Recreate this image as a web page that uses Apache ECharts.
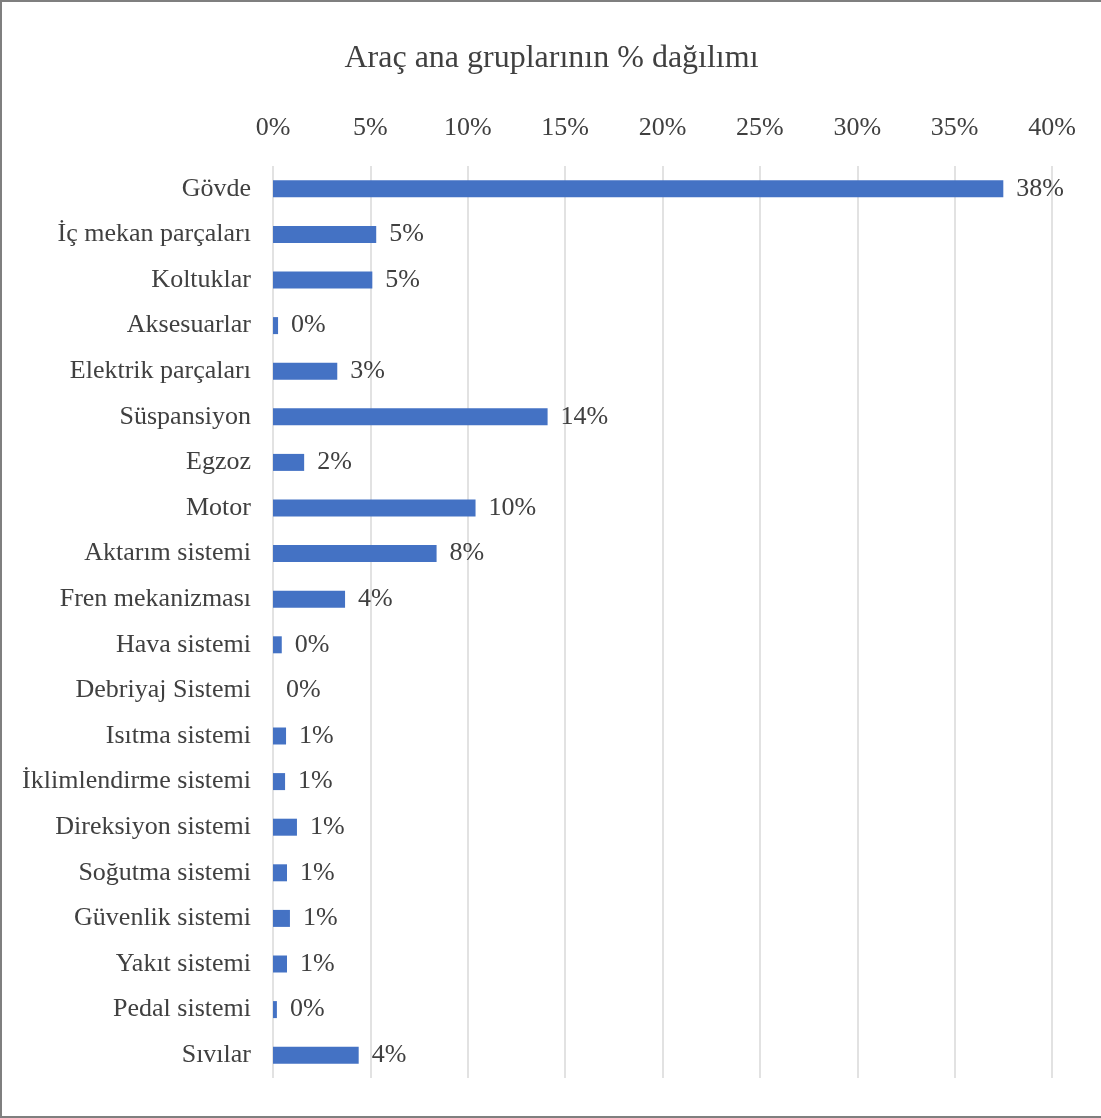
<!DOCTYPE html>
<html lang="tr">
<head>
<meta charset="utf-8">
<title>Araç ana gruplarının % dağılımı</title>
<script src="https://cdn.jsdelivr.net/npm/echarts@6/dist/echarts.min.js"></script>
<style>
  html, body { margin: 0; padding: 0; background: #fff; }
  #main { width: 1101px; height: 1118px; box-sizing: border-box; border: 2px solid #7f7f7f; border-right: none; }
</style>
</head>
<body>
<div id="main"></div>
<script>
// categories (top to bottom) and their share in percent
var groups = [
    'Gövde', 'İç mekan parçaları', 'Koltuklar', 'Aksesuarlar', 'Elektrik parçaları',
    'Süspansiyon', 'Egzoz', 'Motor', 'Aktarım sistemi', 'Fren mekanizması',
    'Hava sistemi', 'Debriyaj Sistemi', 'Isıtma sistemi', 'İklimlendirme sistemi',
    'Direksiyon sistemi', 'Soğutma sistemi', 'Güvenlik sistemi', 'Yakıt sistemi',
    'Pedal sistemi', 'Sıvılar'
];
var shares = [
    37.5, 5.3, 5.1, 0.26, 3.3,
    14.1, 1.6, 10.4, 8.4, 3.7,
    0.45, 0, 0.67, 0.62,
    1.23, 0.72, 0.87, 0.72,
    0.2, 4.4
];
var axisTicks = [0, 5, 10, 15, 20, 25, 30, 35, 40];

var fontFam = '"Liberation Serif", "Times New Roman", serif';
var textCol = '#404040';

var chart = echarts.init(document.getElementById('main'));
var option = {
    animation: false,
    title: {
        text: 'Araç ana gruplarının % dağılımı',
        left: 'center',
        top: 36,
        textStyle: { fontFamily: fontFam, fontSize: 32, fontWeight: 'normal', color: textCol }
    },
    grid: { left: 271, right: 49, top: 164, bottom: 38 },
    xAxis: {
        type: 'value',
        position: 'top',
        min: axisTicks[0],
        max: axisTicks[axisTicks.length - 1],
        interval: 5,
        axisLine: { show: false },
        axisTick: { show: false },
        splitLine: { lineStyle: { color: '#d9d9d9', width: 1.5 } },
        axisLabel: {
            margin: 25,
            fontFamily: fontFam, fontSize: 26, color: textCol,
            formatter: function (v) { return v + '%'; }
        }
    },
    yAxis: {
        type: 'category',
        inverse: true,
        data: groups,
        axisLine: { show: false },
        axisTick: { show: false },
        axisLabel: { margin: 22, fontFamily: fontFam, fontSize: 26, color: textCol }
    },
    series: [{
        type: 'bar',
        data: shares,
        barWidth: 17,
        itemStyle: { color: '#4472c4' },
        label: {
            show: true,
            position: 'right',
            distance: 13,
            fontFamily: fontFam, fontSize: 26, color: textCol,
            formatter: function (p) { return Math.round(p.value) + '%'; }
        }
    }]
};
chart.setOption(option);
window.onresize = chart.resize;
</script>
</body>
</html>
